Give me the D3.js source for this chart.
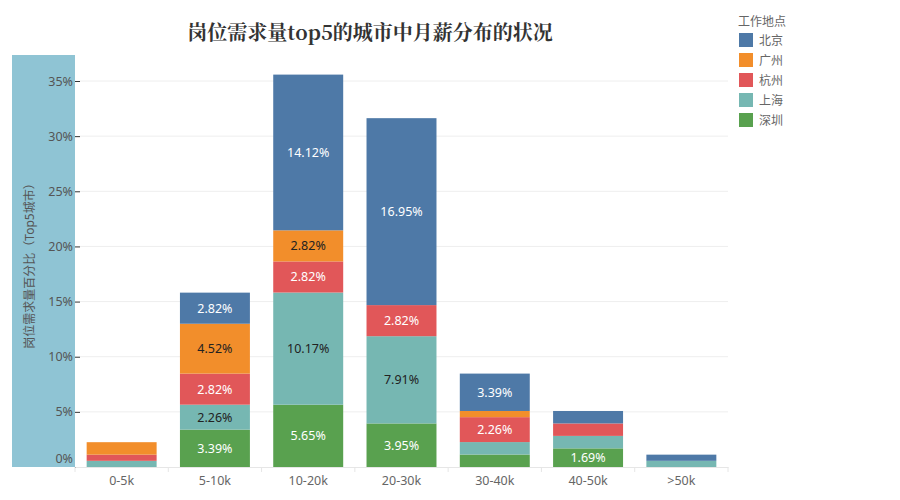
<!DOCTYPE html>
<html><head><meta charset="utf-8">
<script src="https://cdn.jsdelivr.net/npm/d3@7"></script>
<style>body{margin:0;background:#fff;}svg{display:block;}</style>
</head><body>
<svg id="c" width="900" height="500"></svg>
<script>
const categories = ["0-5k","5-10k","10-20k","20-30k","30-40k","40-50k",">50k"];
const cities = ["深圳","上海","杭州","广州","北京"];          // stack order bottom→top
const legendCities = ["北京","广州","杭州","上海","深圳"];
const colors = ["#59a14f","#76b7b2","#e15759","#f28e2b","#4e79a7"];
const shenzhen = [0, 3.39, 5.65, 3.95, 1.13, 1.69, 0];
const shanghai = [0.56, 2.26, 10.17, 7.91, 1.13, 1.13, 0.56];
const hangzhou = [0.56, 2.82, 2.82, 2.82, 2.26, 1.13, 0];
const guangzhou = [1.13, 4.52, 2.82, 0, 0.56, 0, 0];
const beijing = [0, 2.82, 14.12, 16.95, 3.39, 1.13, 0.56];
const yTicks = [0,5,10,15,20,25,30,35];
const seriesVals = [shenzhen, shanghai, hangzhou, guangzhou, beijing];

const table = categories.map((c,i)=>{const o={cat:c}; cities.forEach((k,j)=>o[k]=seriesVals[j][i]); return o;});
const color = d3.scaleOrdinal().domain(cities).range(colors);
const svg = d3.select("#c");
const font = "'Noto Sans','Noto Sans CJK SC',sans-serif";

const x = d3.scaleBand().domain(categories).range([75,728]).paddingInner(0.25).paddingOuter(0.125);
const y = d3.scaleLinear().domain([0,35]).range([467,81]);

// y axis band
svg.append("rect").attr("x",12).attr("y",55).attr("width",63).attr("height",412).attr("fill","#8fc4d4");

// grid
svg.append("g").selectAll("line").data(yTicks.slice(1)).join("line")
  .attr("x1",80).attr("x2",728).attr("y1",d=>y(d)).attr("y2",d=>y(d))
  .attr("stroke","#eeeeee").attr("stroke-width",1);

// y axis
const yAx = svg.append("g").attr("transform","translate(80,0)")
  .call(d3.axisLeft(y).tickValues(yTicks).tickFormat(d=>d+"%").tickSize(5).tickSizeOuter(0));
yAx.select(".domain").remove();
yAx.selectAll(".tick line").attr("stroke","#333");
yAx.selectAll("text").attr("font-family",font).attr("font-size",12.5).attr("fill","#555").attr("x",-7)
  .attr("dy",d=>d===0?"-0.35em":"0.32em");

// y title
svg.append("text").attr("transform","translate(34,263) rotate(-90)").attr("text-anchor","middle")
  .attr("font-family",font).attr("font-size",12).attr("fill","#555").text("岗位需求量百分比（Top5城市）");

// bars
const stack = d3.stack().keys(cities)(table);
const g = svg.append("g");
stack.forEach(s=>{
  g.append("g").attr("fill",color(s.key)).selectAll("rect").data(s).join("rect")
    .attr("x",d=>x(d.data.cat)).attr("width",x.bandwidth())
    .attr("y",d=>y(d[1])).attr("height",d=>y(d[0])-y(d[1]));
});
stack.forEach(s=>{
  const dark = (s.key==="上海"||s.key==="广州");
  g.append("g").selectAll("text").data(s.filter(d=>d[1]-d[0]>=1.6)).join("text")
    .attr("x",d=>x(d.data.cat)+x.bandwidth()/2).attr("y",d=>(y(d[0])+y(d[1]))/2)
    .attr("dy","0.35em").attr("text-anchor","middle")
    .attr("font-family",font).attr("font-size",12.5)
    .attr("fill",dark?"#222":"#fff")
    .text(d=>(d[1]-d[0]).toFixed(2)+"%");
});

// x axis
const xAx = svg.append("g").attr("transform","translate(0,467)")
  .call(d3.axisBottom(x).tickSize(0).tickSizeOuter(0));
xAx.select(".domain").attr("stroke","#e6e6e6");
xAx.selectAll("text").attr("font-family",font).attr("font-size",12.5).attr("fill","#666").attr("dy","1.2em");
// band separators
const seps = categories.map(c=>x(c)-x.step()*x.paddingInner()/2).concat([728]);
svg.append("g").selectAll("line").data(seps).join("line")
  .attr("x1",d=>d).attr("x2",d=>d).attr("y1",467).attr("y2",472).attr("stroke","#e6e6e6");

// title
svg.append("text").attr("x",370).attr("y",40).attr("text-anchor","middle")
  .attr("font-family","'Noto Serif CJK SC','Noto Sans CJK SC',serif").attr("font-weight","bold")
  .attr("font-size",20).attr("fill","#333").text("岗位需求量top5的城市中月薪分布的状况");

// legend
const lg = svg.append("g");
lg.append("text").attr("x",738).attr("y",26).attr("font-family",font).attr("font-size",12).attr("fill","#666").text("工作地点");
legendCities.forEach((c,i)=>{
  lg.append("rect").attr("x",739).attr("y",33+i*20).attr("width",14).attr("height",14).attr("fill",color(c));
  lg.append("text").attr("x",759).attr("y",45+i*20).attr("font-family",font).attr("font-size",12).attr("fill","#666").text(c);
});
</script>
</body></html>
